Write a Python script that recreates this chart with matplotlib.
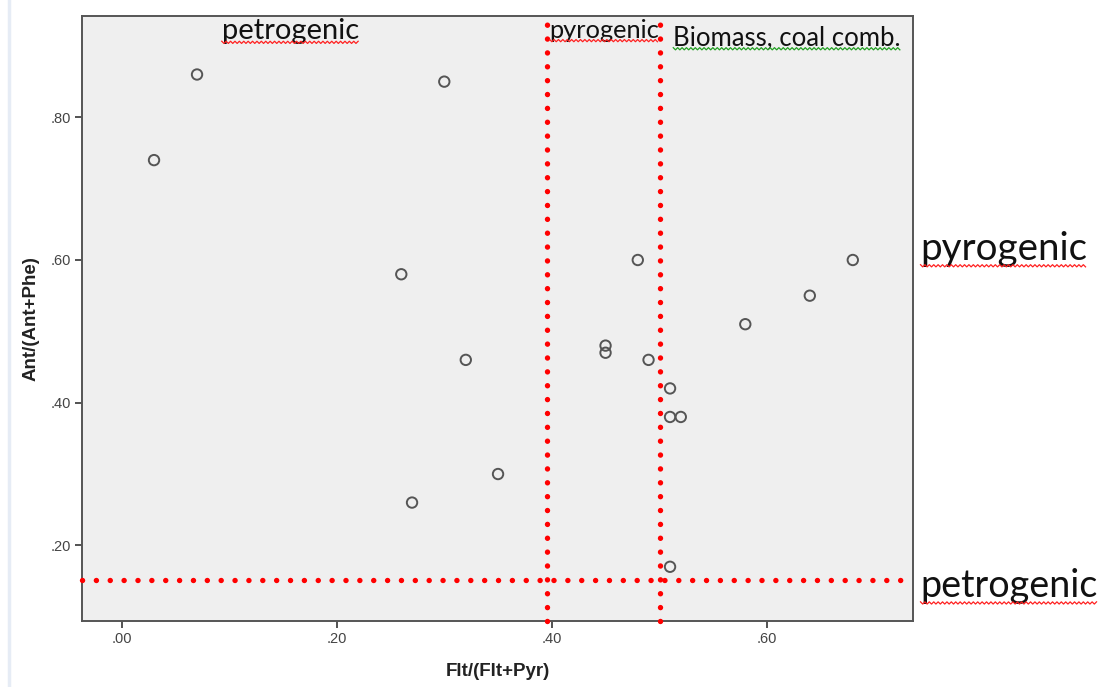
import numpy as np
import matplotlib
matplotlib.use("Agg")
import matplotlib.pyplot as plt
from matplotlib.lines import Line2D

# data
flt_ratio = [0.03, 0.07, 0.30, 0.26, 0.32, 0.35, 0.27, 0.48, 0.45, 0.45, 0.49,
             0.51, 0.51, 0.52, 0.58, 0.64, 0.68, 0.51]
ant_ratio = [0.74, 0.86, 0.85, 0.58, 0.46, 0.30, 0.26, 0.60, 0.48, 0.47, 0.46,
             0.42, 0.38, 0.38, 0.51, 0.55, 0.60, 0.17]
x_ticks = [0.0, 0.2, 0.4, 0.6]
x_tick_labels = [".00", ".20", ".40", ".60"]
y_ticks = [0.2, 0.4, 0.6, 0.8]
y_tick_labels = [".20", ".40", ".60", ".80"]
v_thresholds = [0.396, 0.501]
h_threshold = 0.151
x_label = "Flt/(Flt+Pyr)"
y_label = "Ant/(Ant+Phe)"

W, H = 1098, 687
fig = plt.figure(figsize=(W / 100, H / 100), dpi=100)
fig.patch.set_facecolor("white")
ax = fig.add_axes([82 / W, 1 - 621 / H, (913 - 82) / W, (621 - 16) / H])
ax.set_facecolor("#efefef")
ax.set_xlim(-0.037, 0.736)
ax.set_ylim(0.094, 0.942)

for s in ax.spines.values():
    s.set_color("#555555")
    s.set_linewidth(1.4)

ax.scatter(flt_ratio, ant_ratio, s=56, facecolors="none", edgecolors="#555555",
           linewidths=1.4, zorder=3)

ax.set_xticks(x_ticks)
ax.set_xticklabels(x_tick_labels, family=["Liberation Sans", "DejaVu Sans"])
ax.set_yticks(y_ticks)
ax.set_yticklabels(y_tick_labels, family=["Liberation Sans", "DejaVu Sans"])
ax.tick_params(direction="out", length=5, width=1.3, color="#444444",
               labelsize=10.5, labelcolor="#444444", pad=3)
ax.set_xlabel(x_label, fontsize=13.5, fontweight="bold", color="#222222",
              labelpad=12, family=["Liberation Sans", "DejaVu Sans"])
ax.set_ylabel(y_label, fontsize=13.5, fontweight="bold", color="#222222",
              labelpad=8, family=["Liberation Sans", "DejaVu Sans"])

dot = dict(color="#ff0000", linewidth=3.9, dash_capstyle="round",
           dashes=(0.01, 2.55), zorder=4, clip_on=False)
ax.plot([ax.get_xlim()[0], 0.725], [h_threshold, h_threshold], **dot)
for xv in v_thresholds:
    ax.plot([xv, xv], [0.094, 0.945], **dot)

txtfont = ["Lato", "DejaVu Sans"]
labels = []
labels.append((ax.text(0.093, 0.910, "petrogenic", fontsize=21, family=txtfont,
                       color="#111111", va="baseline", ha="left", zorder=5), "#ff2020"))
labels.append((ax.text(0.398, 0.911, "pyrogenic", fontsize=18.3, family=txtfont,
                       color="#111111", va="baseline", ha="left", zorder=5), "#ff2020"))
labels.append((ax.text(0.513, 0.901, "Biomass, coal comb.", fontsize=18.5, family=txtfont,
                       color="#111111", va="baseline", ha="left", zorder=5), "#22a022"))
labels.append((ax.text(0.743, 0.5996, "pyrogenic", fontsize=27.7, family=txtfont,
                       color="#111111", va="baseline", ha="left", clip_on=False), "#ff2020"))
labels.append((ax.text(0.743, 0.127, "petrogenic", fontsize=27.2, family=txtfont,
                       color="#111111", va="baseline", ha="left", clip_on=False), "#ff2020"))

# light document edge at left
fig.add_artist(Line2D([9 / W, 9 / W], [0, 1], color="#e6ecf5", linewidth=2.5))

fig.canvas.draw()
renderer = fig.canvas.get_renderer()
for t, col in labels:
    bb = t.get_window_extent(renderer)
    x0, x1 = bb.x0, min(bb.x1, W)
    y = bb.y0 + 1.5
    xs = np.arange(x0, x1, 2.2)
    ys = y + np.where((np.arange(len(xs)) % 2) == 0, 1.1, -1.1)
    fig.add_artist(Line2D(xs / W, ys / H, color=col, linewidth=0.9, zorder=6))

fig.savefig("out.png", dpi=100)
